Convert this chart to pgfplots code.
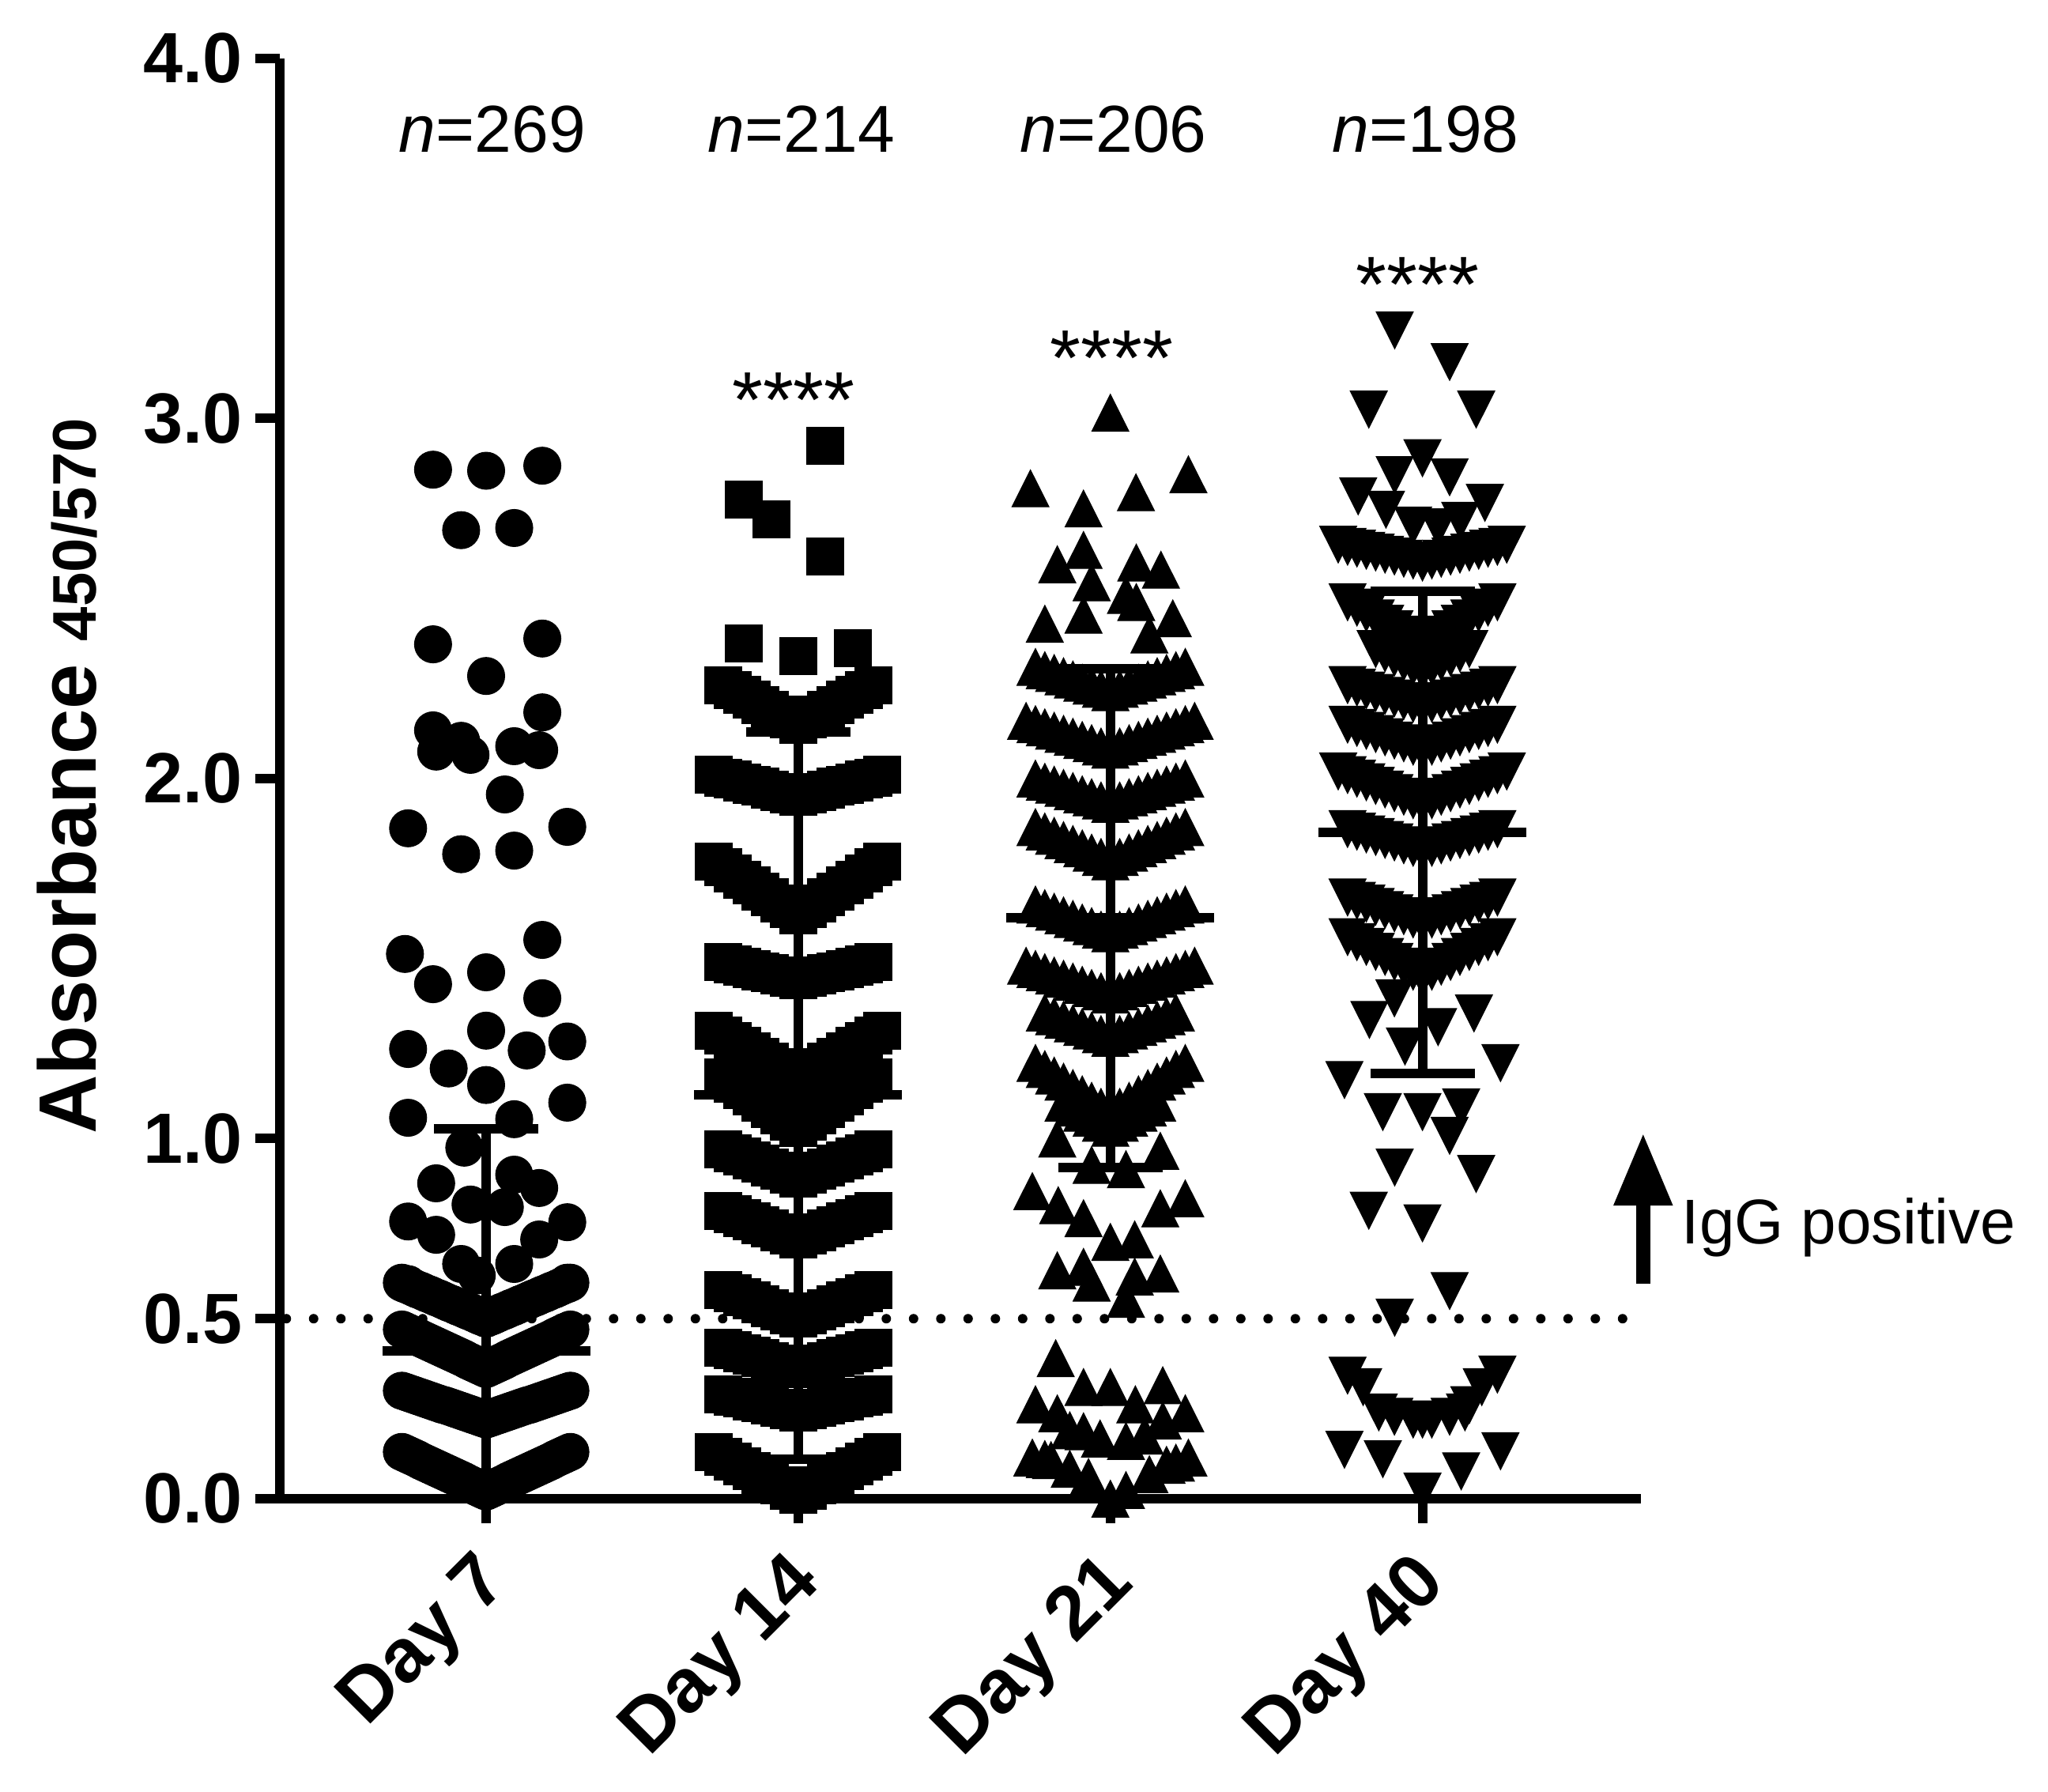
\documentclass[border=0pt]{standalone}
\usepackage{fontspec}
\setmainfont{Liberation Sans}
\usepackage{pgfplots}
\pgfplotsset{compat=1.18}
\usetikzlibrary{arrows.meta}
\begin{document}
\begin{tikzpicture}
\useasboundingbox (-35.4pt,-37.1pt) rectangle (223.7pt,189.6pt);
\begin{axis}[
  at={(0pt,0pt)}, anchor=south west,
  scale only axis, width=172.2pt, height=182.2pt,
  xmin=0.339, xmax=4.70, ymin=0, ymax=4,
  axis x line*=bottom, axis y line*=left,
  axis line style={line width=1.25pt, black},
  tick align=outside, major tick length=3.1pt,
  major tick style={line width=1.2pt, black},
  xtick={1,2,3,4}, xticklabels={Day 7,Day 14,Day 21,Day 40},
  ytick={0,0.5,1,2,3,4}, yticklabels={0.0,0.5,1.0,2.0,3.0,4.0},
  yticklabel style={font=\fontsize{9}{10}\selectfont\bfseries, inner sep=0pt, anchor=east, xshift=-1.4pt},
  xticklabel style={font=\fontsize{9.6}{11}\selectfont\bfseries, inner sep=0pt, xshift=-1.6pt, yshift=-2.8pt, rotate=45, anchor=north east},
  ylabel={\fontsize{10.3}{12}\selectfont\bfseries Absorbance \fontsize{7.8}{9}\selectfont 450/570},
  ylabel style={at={(axis description cs:-0.1353,0.5016)}, anchor=base, inner sep=0pt},
  clip=false,
]
% threshold line
\addplot[black, line width=1.2pt, line cap=round, dash pattern=on 0pt off 3.45pt, forget plot] coordinates {(0.36,0.5) (4.70,0.5)};

% Day 7
\addplot[only marks, mark=*, mark size=2.35pt, mark options={fill=black, draw=black, line width=0.1pt}] coordinates {
(0.83,2.858) (1.00,2.855) (1.18,2.869)
(0.92,2.690) (1.09,2.696)
(0.83,2.373) (1.18,2.389) (1.00,2.285)
(1.18,2.184) (0.83,2.134) (0.84,2.075) (0.92,2.105) (0.95,2.066) (1.09,2.090) (1.17,2.079)
(1.06,1.956)
(0.75,1.862) (1.26,1.866) (0.92,1.790) (1.09,1.800)
(0.74,1.513) (1.18,1.552) (0.83,1.429) (1.00,1.462) (1.18,1.390)
(0.75,1.249) (1.00,1.300) (1.13,1.245) (1.26,1.270) (0.88,1.195)
(1.00,1.149) (1.26,1.100) (0.75,1.058) (1.09,1.054)
(0.93,0.975)
(0.84,0.876) (1.09,0.900) (1.17,0.863) (0.95,0.817) (1.06,0.810)
(0.75,0.770) (0.84,0.733) (1.17,0.720) (1.26,0.768)
(0.92,0.652) (1.09,0.652)
(0.75,0.596) (1.26,0.600) (0.97,0.620)
(1.00,0.500) (0.99,0.504) (1.01,0.504) (0.98,0.507) (1.02,0.507) (0.97,0.511) (1.03,0.511) (0.96,0.515) (1.04,0.515) (0.95,0.519) (1.05,0.519) (0.94,0.522) (1.06,0.522) (0.93,0.526) (1.07,0.526) (0.92,0.530) (1.08,0.530) (0.91,0.533) (1.09,0.533) (0.90,0.537) (1.10,0.537) (0.89,0.541) (1.11,0.541) (0.88,0.544) (1.12,0.544) (0.87,0.548) (1.13,0.548) (0.86,0.552) (1.14,0.552) (0.85,0.556) (1.15,0.556) (0.84,0.559) (1.16,0.559) (0.83,0.563) (1.17,0.563) (0.82,0.567) (1.18,0.567) (0.81,0.570) (1.19,0.570) (0.80,0.574) (1.20,0.574) (0.79,0.578) (1.21,0.578) (0.78,0.581) (1.22,0.581) (0.77,0.585) (1.23,0.585) (0.76,0.589) (1.24,0.589) (0.75,0.593) (1.25,0.593) (0.74,0.596) (1.26,0.596) (0.73,0.600) (1.27,0.600)
(1.00,0.360) (0.99,0.364) (1.01,0.364) (0.98,0.368) (1.02,0.368) (0.97,0.372) (1.03,0.372) (0.96,0.376) (1.04,0.376) (0.95,0.380) (1.05,0.380) (0.94,0.384) (1.06,0.384) (0.93,0.389) (1.07,0.389) (0.92,0.393) (1.08,0.393) (0.91,0.397) (1.09,0.397) (0.90,0.401) (1.10,0.401) (0.89,0.405) (1.11,0.405) (0.88,0.409) (1.12,0.409) (0.87,0.413) (1.13,0.413) (0.86,0.417) (1.14,0.417) (0.85,0.421) (1.15,0.421) (0.84,0.425) (1.16,0.425) (0.83,0.429) (1.17,0.429) (0.82,0.433) (1.18,0.433) (0.81,0.437) (1.19,0.437) (0.80,0.441) (1.20,0.441) (0.79,0.445) (1.21,0.445) (0.78,0.450) (1.22,0.450) (0.77,0.454) (1.23,0.454) (0.76,0.458) (1.24,0.458) (0.75,0.462) (1.25,0.462) (0.74,0.466) (1.26,0.466) (0.73,0.470) (1.27,0.470)
(1.00,0.220) (0.99,0.223) (1.01,0.223) (0.98,0.226) (1.02,0.226) (0.97,0.229) (1.03,0.229) (0.96,0.232) (1.04,0.232) (0.95,0.235) (1.05,0.235) (0.94,0.238) (1.06,0.238) (0.93,0.241) (1.07,0.241) (0.92,0.244) (1.08,0.244) (0.91,0.247) (1.09,0.247) (0.90,0.250) (1.10,0.250) (0.89,0.253) (1.11,0.253) (0.88,0.256) (1.12,0.256) (0.87,0.259) (1.13,0.259) (0.86,0.261) (1.14,0.261) (0.85,0.264) (1.15,0.264) (0.84,0.267) (1.16,0.267) (0.83,0.270) (1.17,0.270) (0.82,0.273) (1.18,0.273) (0.81,0.276) (1.19,0.276) (0.80,0.279) (1.20,0.279) (0.79,0.282) (1.21,0.282) (0.78,0.285) (1.22,0.285) (0.77,0.288) (1.23,0.288) (0.76,0.291) (1.24,0.291) (0.75,0.294) (1.25,0.294) (0.74,0.297) (1.26,0.297) (0.73,0.300) (1.27,0.300)
(1.00,0.020) (0.99,0.024) (1.01,0.024) (0.98,0.028) (1.02,0.028) (0.97,0.032) (1.03,0.032) (0.96,0.036) (1.04,0.036) (0.95,0.040) (1.05,0.040) (0.94,0.044) (1.06,0.044) (0.93,0.049) (1.07,0.049) (0.92,0.053) (1.08,0.053) (0.91,0.057) (1.09,0.057) (0.90,0.061) (1.10,0.061) (0.89,0.065) (1.11,0.065) (0.88,0.069) (1.12,0.069) (0.87,0.073) (1.13,0.073) (0.86,0.077) (1.14,0.077) (0.85,0.081) (1.15,0.081) (0.84,0.085) (1.16,0.085) (0.83,0.089) (1.17,0.089) (0.82,0.093) (1.18,0.093) (0.81,0.097) (1.19,0.097) (0.80,0.101) (1.20,0.101) (0.79,0.105) (1.21,0.105) (0.78,0.110) (1.22,0.110) (0.77,0.114) (1.23,0.114) (0.76,0.118) (1.24,0.118) (0.75,0.122) (1.25,0.122) (0.74,0.126) (1.26,0.126) (0.73,0.130) (1.27,0.130)
};

% Day 14
\addplot[only marks, mark=square*, mark size=2.35pt, mark options={fill=black, draw=black, line width=0.1pt}] coordinates {
(2.086,2.924) (1.825,2.775) (1.914,2.720) (2.086,2.617) (1.825,2.375) (2.000,2.340) (2.175,2.363)
(2.00,2.150) (1.97,2.164) (2.03,2.164) (1.94,2.178) (2.06,2.178) (1.91,2.191) (2.09,2.191) (1.88,2.205) (2.12,2.205) (1.85,2.219) (2.15,2.219) (1.82,2.233) (2.18,2.233) (1.79,2.246) (2.21,2.246) (1.76,2.260) (2.24,2.260)
(2.00,1.950) (1.97,1.957) (2.03,1.957) (1.94,1.963) (2.06,1.963) (1.91,1.970) (2.09,1.970) (1.88,1.977) (2.12,1.977) (1.85,1.983) (2.15,1.983) (1.82,1.990) (2.18,1.990) (1.79,1.997) (2.21,1.997) (1.76,2.003) (2.24,2.003) (1.73,2.010) (2.27,2.010)
(2.00,1.620) (1.97,1.637) (2.03,1.637) (1.94,1.653) (2.06,1.653) (1.91,1.670) (2.09,1.670) (1.88,1.687) (2.12,1.687) (1.85,1.703) (2.15,1.703) (1.82,1.720) (2.18,1.720) (1.79,1.737) (2.21,1.737) (1.76,1.753) (2.24,1.753) (1.73,1.770) (2.27,1.770)
(2.00,1.440) (1.97,1.446) (2.03,1.446) (1.94,1.453) (2.06,1.453) (1.91,1.459) (2.09,1.459) (1.88,1.465) (2.12,1.465) (1.85,1.471) (2.15,1.471) (1.82,1.478) (2.18,1.478) (1.79,1.484) (2.21,1.484) (1.76,1.490) (2.24,1.490)
(2.00,1.170) (1.97,1.184) (2.03,1.184) (1.94,1.199) (2.06,1.199) (1.91,1.213) (2.09,1.213) (1.88,1.228) (2.12,1.228) (1.85,1.242) (2.15,1.242) (1.82,1.257) (2.18,1.257) (1.79,1.271) (2.21,1.271) (1.76,1.286) (2.24,1.286) (1.73,1.300) (2.27,1.300)
(2.00,1.030) (1.97,1.048) (2.03,1.048) (1.94,1.065) (2.06,1.065) (1.91,1.083) (2.09,1.083) (1.88,1.100) (2.12,1.100) (1.85,1.118) (2.15,1.118) (1.82,1.135) (2.18,1.135) (1.79,1.153) (2.21,1.153) (1.76,1.170) (2.24,1.170)
(2.00,0.890) (1.97,0.900) (2.03,0.900) (1.94,0.910) (2.06,0.910) (1.91,0.920) (2.09,0.920) (1.88,0.930) (2.12,0.930) (1.85,0.940) (2.15,0.940) (1.82,0.950) (2.18,0.950) (1.79,0.960) (2.21,0.960) (1.76,0.970) (2.24,0.970)
(2.00,0.720) (1.97,0.730) (2.03,0.730) (1.94,0.740) (2.06,0.740) (1.91,0.750) (2.09,0.750) (1.88,0.760) (2.12,0.760) (1.85,0.770) (2.15,0.770) (1.82,0.780) (2.18,0.780) (1.79,0.790) (2.21,0.790) (1.76,0.800) (2.24,0.800)
(2.00,0.500) (1.97,0.510) (2.03,0.510) (1.94,0.520) (2.06,0.520) (1.91,0.530) (2.09,0.530) (1.88,0.540) (2.12,0.540) (1.85,0.550) (2.15,0.550) (1.82,0.560) (2.18,0.560) (1.79,0.570) (2.21,0.570) (1.76,0.580) (2.24,0.580)
(2.00,0.360) (1.97,0.368) (2.03,0.368) (1.94,0.375) (2.06,0.375) (1.91,0.383) (2.09,0.383) (1.88,0.390) (2.12,0.390) (1.85,0.398) (2.15,0.398) (1.82,0.405) (2.18,0.405) (1.79,0.413) (2.21,0.413) (1.76,0.420) (2.24,0.420)
(2.00,0.240) (1.97,0.246) (2.03,0.246) (1.94,0.253) (2.06,0.253) (1.91,0.259) (2.09,0.259) (1.88,0.265) (2.12,0.265) (1.85,0.271) (2.15,0.271) (1.82,0.278) (2.18,0.278) (1.79,0.284) (2.21,0.284) (1.76,0.290) (2.24,0.290)
(2.00,0.010) (1.97,0.023) (2.03,0.023) (1.94,0.037) (2.06,0.037) (1.91,0.050) (2.09,0.050) (1.88,0.063) (2.12,0.063) (1.85,0.077) (2.15,0.077) (1.82,0.090) (2.18,0.090) (1.79,0.103) (2.21,0.103) (1.76,0.117) (2.24,0.117) (1.73,0.130) (2.27,0.130)
};

% Day 21
\addplot[only marks, mark=triangle*, mark size=2.71pt, mark options={yshift=-0.78pt, yscale=1.15, fill=black, draw=black, line width=0.1pt}] coordinates {
(3.000,3.016) (2.744,2.806) (3.250,2.845) (2.914,2.750) (3.082,2.795)
(2.830,2.595) (2.914,2.635) (3.083,2.600) (3.162,2.580) (2.940,2.545) (3.050,2.510) (3.083,2.490) (2.914,2.455) (2.790,2.430) (3.200,2.445) (3.125,2.400)
(3.00,2.240) (2.97,2.249) (3.03,2.249) (2.94,2.258) (3.06,2.258) (2.91,2.266) (3.09,2.266) (2.88,2.275) (3.12,2.275) (2.85,2.284) (3.15,2.284) (2.82,2.293) (3.18,2.293) (2.79,2.301) (3.21,2.301) (2.76,2.310) (3.24,2.310)
(3.00,2.080) (2.97,2.089) (3.03,2.089) (2.94,2.098) (3.06,2.098) (2.91,2.107) (3.09,2.107) (2.88,2.116) (3.12,2.116) (2.85,2.124) (3.15,2.124) (2.82,2.133) (3.18,2.133) (2.79,2.142) (3.21,2.142) (2.76,2.151) (3.24,2.151) (2.73,2.160) (3.27,2.160)
(3.00,1.930) (2.97,1.939) (3.03,1.939) (2.94,1.948) (3.06,1.948) (2.91,1.956) (3.09,1.956) (2.88,1.965) (3.12,1.965) (2.85,1.974) (3.15,1.974) (2.82,1.983) (3.18,1.983) (2.79,1.991) (3.21,1.991) (2.76,2.000) (3.24,2.000)
(3.00,1.770) (2.97,1.782) (3.03,1.782) (2.94,1.794) (3.06,1.794) (2.91,1.806) (3.09,1.806) (2.88,1.818) (3.12,1.818) (2.85,1.829) (3.15,1.829) (2.82,1.841) (3.18,1.841) (2.79,1.853) (3.21,1.853) (2.76,1.865) (3.24,1.865)
(3.00,1.570) (2.97,1.580) (3.03,1.580) (2.94,1.590) (3.06,1.590) (2.91,1.600) (3.09,1.600) (2.88,1.610) (3.12,1.610) (2.85,1.620) (3.15,1.620) (2.82,1.630) (3.18,1.630) (2.79,1.640) (3.21,1.640) (2.76,1.650) (3.24,1.650)
(3.00,1.400) (2.97,1.409) (3.03,1.409) (2.94,1.418) (3.06,1.418) (2.91,1.427) (3.09,1.427) (2.88,1.436) (3.12,1.436) (2.85,1.444) (3.15,1.444) (2.82,1.453) (3.18,1.453) (2.79,1.462) (3.21,1.462) (2.76,1.471) (3.24,1.471) (2.73,1.480) (3.27,1.480)
(3.00,1.280) (2.97,1.290) (3.03,1.290) (2.94,1.300) (3.06,1.300) (2.91,1.310) (3.09,1.310) (2.88,1.320) (3.12,1.320) (2.85,1.330) (3.15,1.330) (2.82,1.340) (3.18,1.340) (2.79,1.350) (3.21,1.350)
(3.00,1.070) (2.97,1.088) (3.03,1.088) (2.94,1.105) (3.06,1.105) (2.91,1.123) (3.09,1.123) (2.88,1.140) (3.12,1.140) (2.85,1.158) (3.15,1.158) (2.82,1.175) (3.18,1.175) (2.79,1.193) (3.21,1.193) (2.76,1.210) (3.24,1.210)
(3.00,1.030) (2.97,1.044) (3.03,1.044) (2.94,1.058) (3.06,1.058) (2.91,1.072) (3.09,1.072) (2.88,1.086) (3.12,1.086) (2.85,1.100) (3.15,1.100)
(2.830,1.000) (2.940,0.927) (3.050,0.915) (3.160,0.966)
(2.750,0.854) (2.833,0.815) (2.914,0.779) (3.000,0.713) (3.078,0.720) (3.160,0.806) (3.240,0.834)
(2.830,0.634) (2.914,0.644) (2.940,0.600) (3.078,0.617) (3.160,0.625) (3.050,0.555)
(2.825,0.390) (2.914,0.310) (3.000,0.310) (3.168,0.315) (3.080,0.262) (2.760,0.262) (2.830,0.237) (3.240,0.237) (3.168,0.217) (2.914,0.187) (2.967,0.167) (3.050,0.160)
(2.750,0.114) (2.810,0.107) (2.870,0.083) (2.930,0.060) (3.000,0.000) (3.050,0.024) (3.125,0.068) (3.180,0.094) (3.250,0.114)
(3.110,0.175) (2.870,0.190) (3.210,0.100) (2.790,0.110)
};

% Day 40
\addplot[only marks, mark=triangle*, mark size=2.71pt, mark options={yshift=0.78pt, rotate=180, yscale=1.15, fill=black, draw=black, line width=0.1pt}] coordinates {
(3.911,3.245) (4.087,3.157) (3.828,3.025) (4.172,3.025)
(4.000,2.890) (3.911,2.843) (4.087,2.837) (3.794,2.784) (4.200,2.766) (3.883,2.747) (4.121,2.716) (3.970,2.703) (4.050,2.698)
(4.00,2.600) (3.97,2.606) (4.03,2.606) (3.94,2.611) (4.06,2.611) (3.91,2.617) (4.09,2.617) (3.88,2.622) (4.12,2.622) (3.85,2.628) (4.15,2.628) (3.82,2.633) (4.18,2.633) (3.79,2.639) (4.21,2.639) (3.76,2.644) (4.24,2.644) (3.73,2.650) (4.27,2.650)
(4.00,2.370) (3.97,2.385) (4.03,2.385) (3.94,2.400) (4.06,2.400) (3.91,2.415) (4.09,2.415) (3.88,2.430) (4.12,2.430) (3.85,2.445) (4.15,2.445) (3.82,2.460) (4.18,2.460) (3.79,2.475) (4.21,2.475) (3.76,2.490) (4.24,2.490)
(4.00,2.300) (3.97,2.312) (4.03,2.312) (3.94,2.324) (4.06,2.324) (3.91,2.336) (4.09,2.336) (3.88,2.348) (4.12,2.348) (3.85,2.360) (4.15,2.360)
(4.00,2.200) (3.97,2.208) (4.03,2.208) (3.94,2.215) (4.06,2.215) (3.91,2.223) (4.09,2.223) (3.88,2.230) (4.12,2.230) (3.85,2.238) (4.15,2.238) (3.82,2.245) (4.18,2.245) (3.79,2.253) (4.21,2.253) (3.76,2.260) (4.24,2.260)
(4.00,2.080) (3.97,2.089) (4.03,2.089) (3.94,2.098) (4.06,2.098) (3.91,2.106) (4.09,2.106) (3.88,2.115) (4.12,2.115) (3.85,2.124) (4.15,2.124) (3.82,2.133) (4.18,2.133) (3.79,2.141) (4.21,2.141) (3.76,2.150) (4.24,2.150)
(4.00,1.930) (3.97,1.940) (4.03,1.940) (3.94,1.950) (4.06,1.950) (3.91,1.960) (4.09,1.960) (3.88,1.970) (4.12,1.970) (3.85,1.980) (4.15,1.980) (3.82,1.990) (4.18,1.990) (3.79,2.000) (4.21,2.000) (3.76,2.010) (4.24,2.010) (3.73,2.020) (4.27,2.020)
(4.00,1.800) (3.97,1.808) (4.03,1.808) (3.94,1.815) (4.06,1.815) (3.91,1.823) (4.09,1.823) (3.88,1.830) (4.12,1.830) (3.85,1.838) (4.15,1.838) (3.82,1.845) (4.18,1.845) (3.79,1.853) (4.21,1.853) (3.76,1.860) (4.24,1.860)
(4.00,1.600) (3.97,1.609) (4.03,1.609) (3.94,1.618) (4.06,1.618) (3.91,1.626) (4.09,1.626) (3.88,1.635) (4.12,1.635) (3.85,1.644) (4.15,1.644) (3.82,1.653) (4.18,1.653) (3.79,1.661) (4.21,1.661) (3.76,1.670) (4.24,1.670)
(4.00,1.450) (3.97,1.464) (4.03,1.464) (3.94,1.478) (4.06,1.478) (3.91,1.491) (4.09,1.491) (3.88,1.505) (4.12,1.505) (3.85,1.519) (4.15,1.519) (3.82,1.533) (4.18,1.533) (3.79,1.546) (4.21,1.546) (3.76,1.560) (4.24,1.560)
(3.830,1.330) (3.910,1.390) (4.165,1.348) (4.050,1.310) (3.944,1.256) (4.250,1.210) (3.750,1.163)
(3.873,1.074) (4.000,1.074) (4.124,1.087) (4.087,1.008)
(3.911,0.920) (4.172,0.902) (3.828,0.800) (4.000,0.765)
(4.087,0.577) (3.911,0.503)
(3.760,0.342) (4.240,0.345) (3.810,0.310) (4.190,0.310) (3.860,0.240) (3.910,0.228) (3.970,0.220) (4.000,0.220) (4.030,0.220) (4.087,0.228) (4.136,0.240) (4.150,0.260)
(3.750,0.136) (3.873,0.110) (4.250,0.132) (4.124,0.076) (4.000,0.020)
};

% mean and SD
\addplot[black, line width=1.2pt, forget plot] coordinates {(0.667,0.411) (1.333,0.411)};
\addplot[black, line width=1.2pt, forget plot] coordinates {(1,0) (1,1.027)};
\addplot[black, line width=1.2pt, forget plot] coordinates {(0.833,1.027) (1.167,1.027)};
\addplot[black, line width=1.2pt, forget plot] coordinates {(1.667,1.122) (2.333,1.122)};
\addplot[black, line width=1.2pt, forget plot] coordinates {(2,0.11) (2,2.13)};
\addplot[black, line width=1.2pt, forget plot] coordinates {(1.833,2.13) (2.167,2.13)};
\addplot[black, line width=1.2pt, forget plot] coordinates {(1.833,0.11) (2.167,0.11)};
\addplot[black, line width=1.2pt, forget plot] coordinates {(2.667,1.614) (3.333,1.614)};
\addplot[black, line width=1.2pt, forget plot] coordinates {(3,0.92) (3,2.305)};
\addplot[black, line width=1.2pt, forget plot] coordinates {(2.833,2.305) (3.167,2.305)};
\addplot[black, line width=1.2pt, forget plot] coordinates {(2.833,0.92) (3.167,0.92)};
\addplot[black, line width=1.2pt, forget plot] coordinates {(3.667,1.851) (4.333,1.851)};
\addplot[black, line width=1.2pt, forget plot] coordinates {(4,1.18) (4,2.52)};
\addplot[black, line width=1.2pt, forget plot] coordinates {(3.833,2.52) (4.167,2.52)};
\addplot[black, line width=1.2pt, forget plot] coordinates {(3.833,1.18) (4.167,1.18)};

% annotations
\node[anchor=base, inner sep=0pt, font=\fontsize{8.4}{10}\selectfont] at (axis cs:1.02,3.739) {\textit{n}=269};
\node[anchor=base, inner sep=0pt, font=\fontsize{8.4}{10}\selectfont] at (axis cs:2.01,3.739) {\textit{n}=214};
\node[anchor=base, inner sep=0pt, font=\fontsize{8.4}{10}\selectfont] at (axis cs:3.01,3.739) {\textit{n}=206};
\node[anchor=base, inner sep=0pt, font=\fontsize{8.4}{10}\selectfont] at (axis cs:4.01,3.739) {\textit{n}=198};
\node[anchor=base, inner sep=0pt, font=\fontsize{10}{12}\selectfont] at (axis cs:1.985,2.975) {****};
\node[anchor=base, inner sep=0pt, font=\fontsize{10}{12}\selectfont] at (axis cs:3.005,3.093) {****};
\node[anchor=base, inner sep=0pt, font=\fontsize{10}{12}\selectfont] at (axis cs:3.985,3.297) {****};
\draw[line width=1.8pt, -{Triangle[width=7pt, length=9.2pt]}] (axis cs:4.707,0.597) -- (axis cs:4.707,1.016);
\node[anchor=base west, inner sep=0pt, font=\fontsize{8.0}{10}\selectfont] at (axis cs:4.826,0.709) {IgG positive};
\end{axis}
\end{tikzpicture}
\end{document}
